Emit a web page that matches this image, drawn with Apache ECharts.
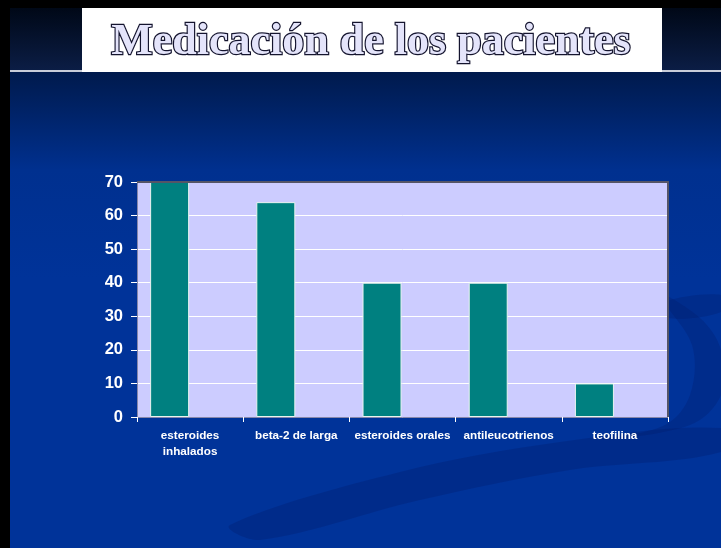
<!DOCTYPE html>
<html><head><meta charset="utf-8">
<script src="https://cdn.jsdelivr.net/npm/echarts@6/dist/echarts.min.js"></script>
<style>html,body{margin:0;padding:0;background:#000;}#c{width:721px;height:548px;}</style>
</head><body><div id="c"></div>
<script>
const categories = ['esteroides\ninhalados', 'beta-2 de larga', 'esteroides orales', 'antileucotrienos', 'teofilina'];
const values = [70, 64, 40, 40, 10];
const yTicks = { min: 0, max: 70, interval: 10 };
const titleText = 'Medicación de los pacientes';

const chart = echarts.init(document.getElementById('c'), null, { renderer: 'canvas' });
chart.setOption({
  backgroundColor: '#000',
  animation: false,
  graphic: [
    { type: 'rect', z: -10, shape: { x: 10, y: 8, width: 711, height: 540 },
      style: { fill: new echarts.graphic.LinearGradient(0, 0, 0, 1, [
        { offset: 0, color: '#001a4d' }, { offset: 0.12, color: '#001a4d' }, { offset: 0.3, color: '#00308f' }, { offset: 0.5, color: '#003399' }, { offset: 1, color: '#003399' }]) } },
    { type: 'rect', z: -9, shape: { x: 10, y: 8, width: 711, height: 62 },
      style: { fill: new echarts.graphic.LinearGradient(0, 0, 0, 1, [
        { offset: 0, color: '#000817' }, { offset: 1, color: '#0b1d45' }]) } },
    { type: 'rect', z: -8, shape: { x: 10, y: 70, width: 711, height: 2 }, style: { fill: '#c8ccd8' } },
    { type: 'polygon', z: -7, shape: { smooth: 0.35, points: [[230, 525], [400, 472], [560, 442], [721, 428], [721, 452], [570, 470], [420, 500], [260, 540]] },
      style: { fill: 'rgba(0,25,100,0.28)' } },
    { type: 'polygon', z: -7, shape: { smooth: 0.35, points: [[600, 440], [665, 425], [690, 395], [692, 345], [660, 295], [700, 318], [721, 350], [721, 395], [690, 425]] },
      style: { fill: 'rgba(0,25,100,0.25)' } },
    { type: 'polygon', z: -7, shape: { smooth: 0.3, points: [[665, 302], [721, 295], [721, 312], [668, 318]] },
      style: { fill: 'rgba(0,25,100,0.25)' } },
    { type: 'rect', z: -6, shape: { x: 82, y: 8, width: 580, height: 64 }, style: { fill: '#ffffff' } },
    { type: 'text', z: 10, x: 371, y: 43,
      style: { text: titleText, align: 'center', verticalAlign: 'middle',
        font: 'bold 44px "Liberation Serif", "DejaVu Serif", serif',
        fill: '#e4e4fa', stroke: '#14142e', lineWidth: 2.4,
        shadowColor: 'rgba(30,30,55,0.95)', shadowOffsetX: 3, shadowOffsetY: 3, shadowBlur: 1 } },
    { type: 'polyline', z: 5, shape: { points: [[137, 182], [668, 182], [668, 417]] },
      style: { stroke: '#555566', lineWidth: 2, fill: null } }
  ],
  grid: { left: 137, right: 53, top: 182, bottom: 131, containLabel: false,
    show: true, backgroundColor: '#ccccff', borderWidth: 0 },
  xAxis: {
    type: 'category', data: categories,
    axisLine: { show: true, lineStyle: { color: '#8888aa', width: 1 } },
    axisTick: { show: true, length: 5, lineStyle: { color: '#ffffff' } },
    axisLabel: { color: '#ffffff', fontFamily: '"Liberation Sans", Arial, sans-serif', fontWeight: 'bold', fontSize: 11.7, margin: 11, lineHeight: 16, interval: 0 }
  },
  yAxis: {
    type: 'value', min: yTicks.min, max: yTicks.max, interval: yTicks.interval,
    axisLine: { show: true, lineStyle: { color: '#8888aa', width: 1 } },
    axisTick: { show: true, length: 6, lineStyle: { color: '#ffffff' } },
    axisLabel: { color: '#ffffff', fontFamily: '"Liberation Sans", Arial, sans-serif', fontWeight: 'bold', fontSize: 16.5, margin: 14 },
    splitLine: { show: true, lineStyle: { color: '#ffffff', width: 1 } }
  },
  series: [{
    type: 'bar', data: values, barWidth: 39, barGap: '5%',
    itemStyle: { color: '#008080', borderColor: '#e8f4f0', borderWidth: 1 }
  }, {
    type: 'bar', data: [], barWidth: 39, silent: true
  }]
});
</script></body></html>
